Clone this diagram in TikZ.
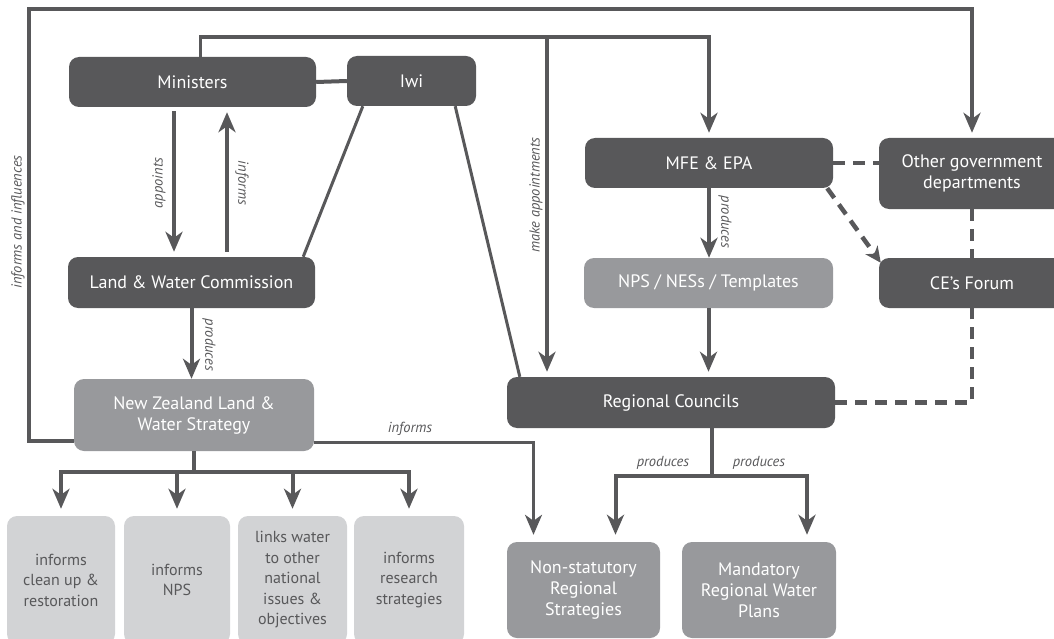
\documentclass[tikz,border=0pt]{standalone}
\usepackage{fontspec}
\setmainfont{PT Sans}
\usetikzlibrary{arrows.meta,calc}
\definecolor{dk}{HTML}{58585A}
\definecolor{md}{HTML}{98999C}
\definecolor{lt}{HTML}{D2D3D5}
\begin{document}
\begin{tikzpicture}[x=1pt,y=-1pt,
  box/.style={rounded corners=10pt, inner sep=0pt, align=center, font=\fontsize{18}{21}\selectfont},
  dbox/.style={box, fill=dk, text=white},
  mbox/.style={box, fill=md, text=white},
  lbox/.style={box, fill=lt, text=dk, font=\fontsize{16}{20.5}\selectfont},
  ln/.style={draw=dk, line width=4pt},
  thin/.style={draw=dk, line width=3pt},
  tip/.style={-{Stealth[length=20pt,width=17pt,inset=6pt]}},
  arr/.style={ln, tip, shorten >=5pt},
  dsh/.style={draw=dk, line width=4.5pt, dash pattern=on 12pt off 8pt},
  lab/.style={font=\fontsize{14.5}{16}\selectfont\itshape, text=dk, inner sep=0pt}]
\useasboundingbox (0,0) rectangle (1054,639);
\clip (0,0) rectangle (1054,639);
% nodes
\node[dbox, minimum width=247pt, minimum height=50pt] (min) at (192.5,82) {Ministers};
\node[dbox, minimum width=129pt, minimum height=50pt] (iwi) at (411.5,81) {Iwi};
\node[dbox, minimum width=247pt, minimum height=51pt] (lwc) at (191.5,282.5) {Land \& Water Commission};
\node[mbox, minimum width=240pt, minimum height=72pt] (nzs) at (194,415) {New Zealand Land \&\\Water Strategy};
\node[dbox, minimum width=248pt, minimum height=50pt] (mfe) at (709,163) {MFE \& EPA};
\node[dbox, minimum width=186pt, minimum height=71pt] (other) at (972,173.5) {Other government\\departments};
\node[mbox, minimum width=249pt, minimum height=50pt] (nps) at (708.5,283) {NPS / NESs / Templates};
\node[dbox, minimum width=186pt, minimum height=50pt] (ce) at (972,283) {CE’s Forum};
\node[dbox, minimum width=328pt, minimum height=51pt] (rc) at (671,402.5) {Regional Councils};
\node[lbox, minimum width=108pt, minimum height=128pt] (b1) at (61,580) {informs\\clean up \&\\restoration};
\node[lbox, minimum width=106pt, minimum height=128pt] (b2) at (177,580) {informs\\NPS};
\node[lbox, minimum width=109pt, minimum height=128pt] (b3) at (292.5,580) {links water\\to other\\national\\issues \&\\objectives};
\node[lbox, minimum width=110pt, minimum height=128pt] (b4) at (409,580) {informs\\research\\strategies};
\node[mbox, minimum width=153pt, minimum height=96pt] (ns) at (583.5,590) {Non-statutory\\Regional\\Strategies};
\node[mbox, minimum width=154pt, minimum height=96pt] (man) at (759,590) {Mandatory\\Regional Water\\Plans};
% coordinates
\coordinate (top1) at (29,9);
\coordinate (top2) at (0,37);
\coordinate (ma) at (547,37);
\coordinate (nzb) at (194,472);
\coordinate (rcb) at (712,476);
% connectors
\draw[arr] ([yshift=-26pt]nzs.west) -| (top1) -| (other.north);
\draw[arr, line width=3.5pt] ([xshift=8pt]min.north) |- (mfe.north |- top2) -- (mfe.north);
\draw[arr, line width=3.5pt] (ma) -- (ma |- rc.north);
\draw[arr, shorten <=4pt] ([xshift=-18.5pt]min.south) -- ([xshift=-18.5pt]min.south |- lwc.north);
\draw[arr, shorten <=5pt] ([xshift=35.5pt]lwc.north) -- ([xshift=35.5pt]lwc.north |- min.south);
\draw[arr, shorten >=0pt] (lwc.south) -- (lwc.south |- nzs.north);
\draw[ln] (min.east) -- (iwi.west);
\draw[thin] ([xshift=16pt]iwi.south west) -- ([xshift=-12pt]lwc.north east);
\draw[thin] ([xshift=-21pt]iwi.south east) -- ([xshift=13pt]rc.north west);
\draw[dsh] (mfe.east) -- (other.west |- mfe.east);
\draw[dsh, -{Stealth[length=16pt,width=15pt,inset=5pt]}] ([xshift=-6pt]mfe.south east) -- ([xshift=2pt,yshift=-5pt]ce.north west);
\draw[dsh] (other.south) -- (ce.north);
\draw[dsh] (rc.east) -| (ce.south);
\draw[arr, shorten >=0pt] (mfe.south) -- (mfe.south |- nps.north);
\draw[arr] (nps.south) -- (nps.south |- rc.north);
\draw[ln] (rcb |- rc.south) -- (rcb);
\draw[arr, shorten >=7pt] (rcb) -| ([xshift=32pt]ns.north);
\draw[arr, shorten >=7pt] (rcb) -| ([xshift=48pt]man.north);
\draw[ln] (nzs.south) -- (nzb);
\draw[arr, shorten >=7pt] (nzb) -| (b1.north);
\draw[arr, shorten >=7pt] (nzb) -| (b2.north);
\draw[arr, shorten >=7pt] (nzb) -| (b3.north);
\draw[arr, shorten >=7pt] (nzb) -| (b4.north);
\draw[thin, tip, shorten >=7pt] ([yshift=-27pt]nzs.east) -| ([xshift=-50pt]ns.north);
% labels
\node[lab, rotate=90] (l1) at (18,222) {informs and influences};
\node[lab, rotate=90] (l2) at (159,183) {appoints};
\node[lab, rotate=-90] (l3) at (242,183) {informs};
\node[lab, rotate=-90] (l4) at (209,345) {produces};
\node[lab, rotate=90] (l5) at (536,195) {make appointments};
\node[lab, rotate=-90] (l6) at (725,222) {produces};
\node[lab] (l7) at (410,429) {informs};
\node[lab] (l8) at (663,463) {produces};
\node[lab] (l9) at (759,463) {produces};
\end{tikzpicture}
\end{document}
